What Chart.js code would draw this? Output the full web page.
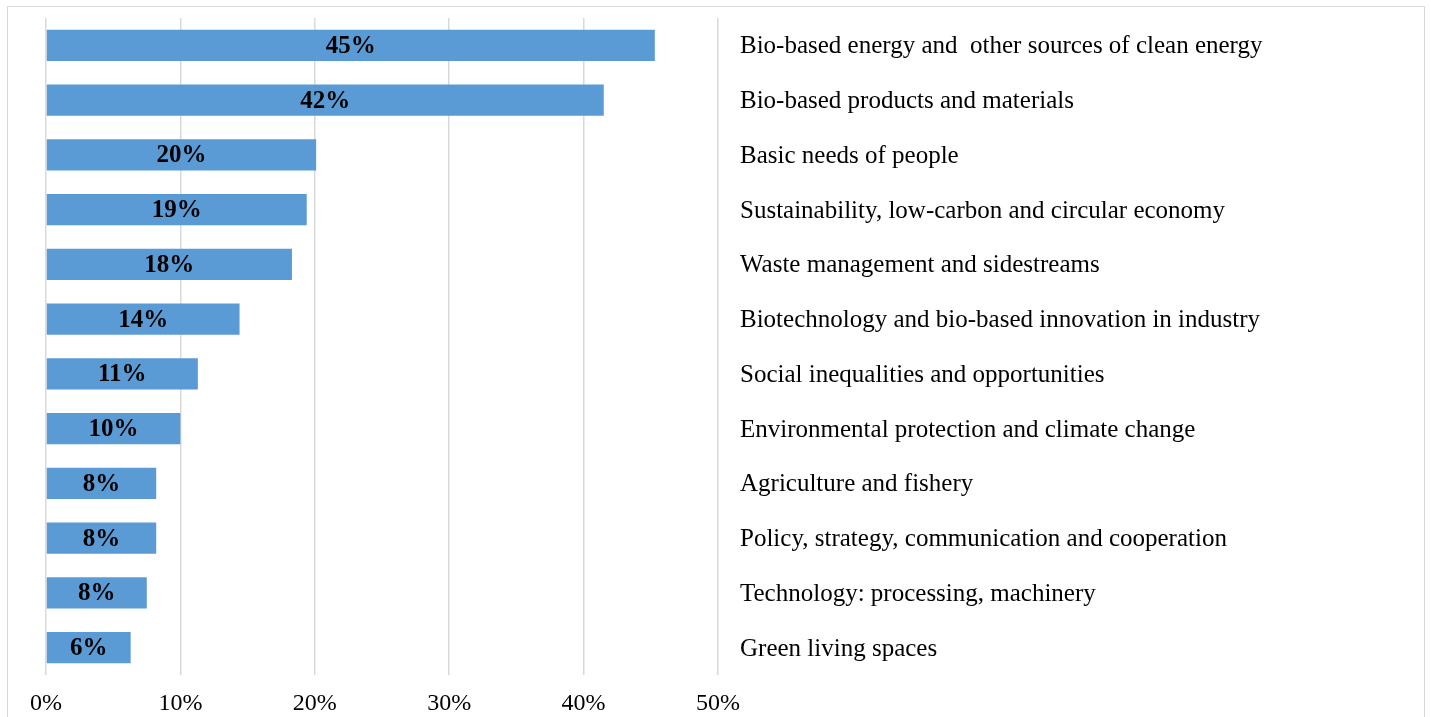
<!DOCTYPE html>
<html>
<head>
<meta charset="utf-8">
<script src="https://cdn.jsdelivr.net/npm/chart.js@4/dist/chart.umd.min.js"></script>
<style>
  html, body { margin: 0; padding: 0; background: #fff; overflow: hidden; }
  #wrap { position: relative; width: 1431px; height: 717px; }
  #frame { position: absolute; left: 7px; top: 6px; width: 1418px; height: 730px; border: 1.5px solid #d9d9d9; box-sizing: border-box; }
  #chart { position: absolute; left: 0; top: 0; }
</style>
</head>
<body>
<div id="wrap">
  <div id="frame"></div>
  <canvas id="chart" width="1431" height="717"></canvas>
</div>
<script>
// Dados do gráfico
const categorias = [
  'Bio-based energy and  other sources of clean energy',
  'Bio-based products and materials',
  'Basic needs of people',
  'Sustainability, low-carbon and circular economy',
  'Waste management and sidestreams',
  'Biotechnology and bio-based innovation in industry',
  'Social inequalities and opportunities',
  'Environmental protection and climate change',
  'Agriculture and fishery',
  'Policy, strategy, communication and cooperation',
  'Technology: processing, machinery',
  'Green living spaces'
];
const valores = [45.3, 41.5, 20.1, 19.4, 18.3, 14.4, 11.3, 10.0, 8.2, 8.2, 7.5, 6.3];
const ticksX = [0, 10, 20, 30, 40, 50];

const serif = '"Liberation Serif", "Times New Roman", serif';

// rótulos no centro das barras (sem plugin externo)
const rotulosBarras = {
  id: 'rotulosBarras',
  afterDatasetsDraw(chart) {
    const ctx = chart.ctx;
    const meta = chart.getDatasetMeta(0);
    ctx.save();
    ctx.font = 'bold 25px ' + serif;
    ctx.fillStyle = '#000';
    ctx.textAlign = 'center';
    ctx.textBaseline = 'middle';
    meta.data.forEach((bar, i) => {
      const p = bar.getProps(['x', 'y', 'base'], true);
      ctx.fillText(Math.round(valores[i]) + '%', (p.x + p.base) / 2, p.y + 1);
    });
    ctx.restore();
  }
};

new Chart(document.getElementById('chart').getContext('2d'), {
  type: 'bar',
  data: {
    labels: categorias,
    datasets: [{
      data: valores,
      backgroundColor: '#5b9bd5',
      borderWidth: 0,
      barPercentage: 0.567,
      categoryPercentage: 1.0
    }]
  },
  options: {
    indexAxis: 'y',
    responsive: false,
    animation: false,
    layout: { padding: { left: 46, top: 18, right: 0, bottom: 0 } },
    plugins: { legend: { display: false }, tooltip: { enabled: false } },
    scales: {
      x: {
        min: 0,
        max: 50,
        afterBuildTicks: scale => { scale.ticks = ticksX.map(v => ({ value: v })); },
        afterFit: scale => {
          scale.height = 42;
          scale.paddingTop = 0;
          scale.paddingBottom = 0;
        },
        grid: { color: '#d9d9d9', lineWidth: 1.5, drawTicks: false },
        border: { display: false },
        ticks: {
          padding: 14,
          color: '#000',
          font: { family: serif, size: 24 },
          callback: v => v + '%'
        }
      },
      y: {
        position: 'right',
        grid: { display: false, drawTicks: false },
        border: { display: false },
        afterFit: scale => {
          scale.width = 713;
          scale.paddingTop = 0;
          scale.paddingBottom = 0;
        },
        ticks: {
          padding: 22,
          labelOffset: 1.5,
          color: '#000',
          font: { family: serif, size: 25 }
        }
      }
    }
  },
  plugins: [rotulosBarras]
});
</script>
</body>
</html>
